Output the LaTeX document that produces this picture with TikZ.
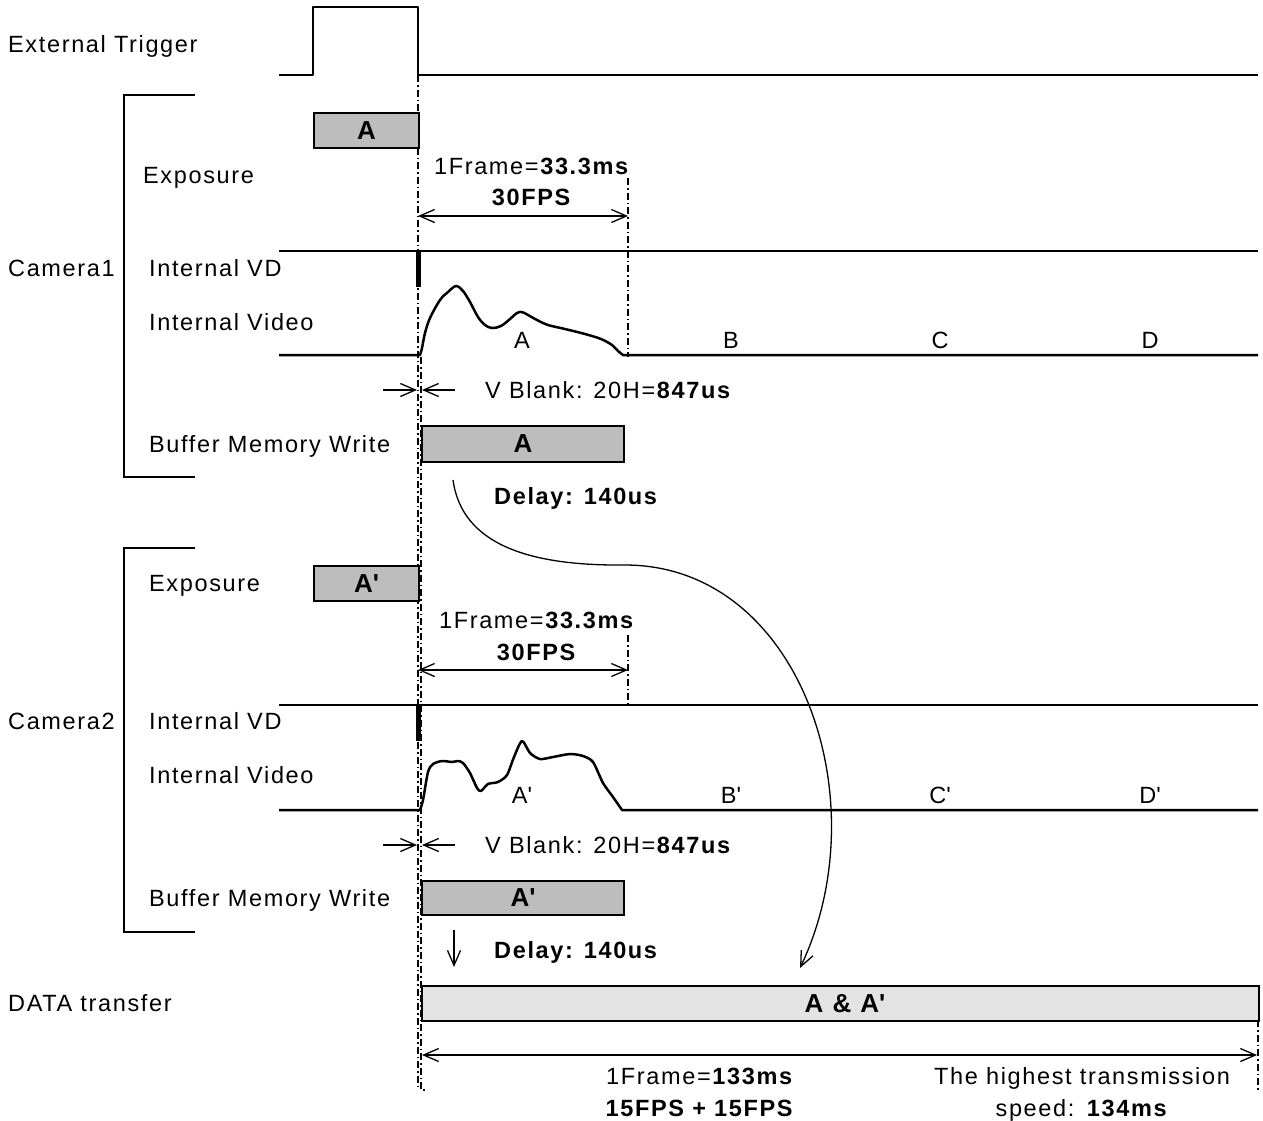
\documentclass[tikz,border=0pt]{standalone}
\usepackage{fontspec}
\setmainfont{Liberation Sans}[LetterSpace=7]
\usetikzlibrary{arrows.meta}
\newcommand{\apo}{\textquotesingle}
\begin{document}
\begin{tikzpicture}[x=1pt,y=-1pt,
 every node/.style={font=\fontsize{23.5pt}{27pt}\selectfont, inner sep=0pt},
 lbl/.style={anchor=base west},
 ctr/.style={anchor=base},
 boxtxt/.style={font=\fontsize{26pt}{30pt}\selectfont\bfseries},
 sig/.style={line width=2.5pt, line join=round},
 brk/.style={line width=1.4pt},
 dd/.style={line width=1.2pt, dash pattern=on 7pt off 3pt on 1.5pt off 3pt},
 dim/.style={line width=1.3pt},
 tip/.style={-{Straight Barb[length=15pt,width=13pt,line width=1.3pt]}},
 dtip/.style={{Straight Barb[length=15pt,width=13pt,line width=1.3pt]}-{Straight Barb[length=15pt,width=13pt,line width=1.3pt]}},
 expbox/.style={draw, line width=2pt, fill=black!26, anchor=north west, boxtxt},
 databox/.style={draw, line width=2pt, fill=black!11, anchor=north west},
]
\useasboundingbox (0,0) rectangle (1263,1120);

% ---------- labels ----------
\node[lbl] (lET) at (8,52) {External Trigger};
\node[lbl] (lC1) at (8,276) {Camera1};
\node[lbl] (lExp1) at (143,183) {Exposure};
\node[lbl] (lVD1) at (149,276) {Internal VD};
\node[lbl] (lVid1) at (149,330) {Internal Video};
\node[lbl] (lBuf1) at (149,452) {Buffer Memory Write};
\node[lbl] (lC2) at (8,729) {Camera2};
\node[lbl] (lExp2) at (149,591) {Exposure};
\node[lbl] (lVD2) at (149,729) {Internal VD};
\node[lbl] (lVid2) at (149,783) {Internal Video};
\node[lbl] (lBuf2) at (149,906) {Buffer Memory Write};
\node[lbl] (lData) at (8,1011) {DATA transfer};

% ---------- brackets ----------
\draw[brk] (195,95) -- (124,95) -- (124,477) -- (195,477);
\draw[brk] (195,548) -- (124,548) -- (124,932) -- (195,932);

% ---------- dash-dot reference lines ----------
\coordinate (r0t) at (418,75);  \coordinate (r0b) at (418,1090);
\coordinate (r1t) at (421,357); \coordinate (r1b) at (421,1090);
\draw[dd] (r0t) -- (r0b);
\draw[dd] (r1t) -- (r1b) -- ++(5,0);
\coordinate (f1t) at (628,178); \coordinate (f1b) at (628,357);
\draw[dd] (f1t) -- (f1b);
\coordinate (f2t) at (628,635); \coordinate (f2b) at (628,705);
\draw[dd] (f2t) -- (f2b);
\coordinate (dEt) at (1258,1020); \coordinate (dEb) at (1258,1090);
\draw[dd] (dEt) -- (dEb);

% ---------- external trigger ----------
\draw[sig] (279,75) -- (313,75) -- (313,7) -- (418,7) -- (418,75) -- (1258,75);

% ---------- camera 1 ----------
\node[expbox, minimum width=105pt, minimum height=35pt] (expA) at (313,112) {A};
\node[ctr] (fr1a) at (532,174) {1Frame=\textbf{33.3ms}};
\node[ctr] (fr1b) at (532,205) {\textbf{30FPS}};
\coordinate (a1l) at (418,216); \coordinate (a1r) at (628,216);
\draw[dim,dtip] (a1l) -- (a1r);

\draw[sig] (279,251) -- (1258,251);
\draw[line width=5pt] (418,251) -- (418,287);

\draw[sig] (279,355) -- (420,355) -- plot[smooth, tension=0.55] coordinates {
 (420,355) (422,348) (425,333) (430,318) (440,300) (448,292) (456,286) (463,291) (470,302) (478,317)
 (485,325) (492,328) (501,326) (510,319) (517,313) (522,312) (528,315) (537,320) (548,325)
 (565,329) (585,334) (601,339) (612,345) (618,351) (623,355)} -- (1258,355);
\node[ctr] (vA) at (522,348) {A};
\node[ctr] (vB) at (731,348) {B};
\node[ctr] (vC) at (940,348) {C};
\node[ctr] (vD) at (1150,348) {D};

\coordinate (vb1a) at (383,390); \coordinate (vb1b) at (417,390);
\coordinate (vb1c) at (455,390); \coordinate (vb1d) at (422,390);
\draw[dim,tip] (vb1a) -- (vb1b);
\draw[dim,tip] (vb1c) -- (vb1d);
\node[lbl] (vbl1) at (485,398) {V Blank: 20H=\textbf{847us}};

\node[expbox, minimum width=202pt, minimum height=36pt] (bufA) at (421,425) {A};
\node[lbl] (dl1) at (494,504) {\textbf{Delay: 140us}};

% ---------- camera 2 ----------
\node[expbox, minimum width=105pt, minimum height=35pt] (expA2) at (313,565) {A\apo};
\node[ctr] (fr2a) at (537,628) {1Frame=\textbf{33.3ms}};
\node[ctr] (fr2b) at (537,660) {\textbf{30FPS}};
\coordinate (a2l) at (418,670); \coordinate (a2r) at (628,670);
\draw[dim,dtip] (a2l) -- (a2r);

\draw[sig] (279,705) -- (1258,705);
\draw[line width=5pt] (418,705) -- (418,741);

\draw[sig] (279,810) -- (420,810) -- plot[smooth, tension=0.45] coordinates {
 (420,810) (423,800) (428,772) (433,764) (442,761) (452,762) (458,761) (463,763) (470,773)
 (477,788) (481,791) (488,784) (498,782) (507,775) (514,757) (522,741) (530,753) (540,759)
 (553,757) (570,754) (583,756) (593,762) (603,783) (613,797) (622,810)} -- (1258,810);
\node[ctr] (vA2) at (522,803) {A\apo};
\node[ctr] (vB2) at (731,803) {B\apo};
\node[ctr] (vC2) at (940,803) {C\apo};
\node[ctr] (vD2) at (1150,803) {D\apo};

\coordinate (vb2a) at (383,845); \coordinate (vb2b) at (417,845);
\coordinate (vb2c) at (455,845); \coordinate (vb2d) at (422,845);
\draw[dim,tip] (vb2a) -- (vb2b);
\draw[dim,tip] (vb2c) -- (vb2d);
\node[lbl] (vbl2) at (485,853) {V Blank: 20H=\textbf{847us}};

\node[expbox, minimum width=202pt, minimum height=34pt] (bufA2) at (421,880) {A\apo};
\coordinate (dn1) at (454,930); \coordinate (dn2) at (454,967);
\draw[dim,tip] (dn1) -- (dn2);
\node[lbl] (dl2) at (494,958) {\textbf{Delay: 140us}};

% ---------- data transfer ----------
\node[databox, minimum width=837pt, minimum height=35pt] (data) at (421,985) {};
\node[ctr, boxtxt] (dataT) at (845,1012) {A \& A\apo};

\coordinate (cs) at (453,480); \coordinate (ce) at (800,968);
\draw[dim,tip] (cs) .. controls (462,545) and (530,566) .. (625,565)
  .. controls (800,565) and (880,800) .. (ce);

\coordinate (t1) at (422,1055); \coordinate (t2) at (1257,1055);
\draw[dim,dtip] (t1) -- (t2);
\node[ctr] (tt1) at (700,1084) {1Frame=\textbf{133ms}};
\node[ctr] (tt2) at (700,1116) {\textbf{15FPS + 15FPS}};
\node[ctr] (hs1) at (1082,1084) {The highest transmission};
\node[ctr] (hs2) at (1082,1116) {speed: \textbf{134ms}};
\end{tikzpicture}
\end{document}
